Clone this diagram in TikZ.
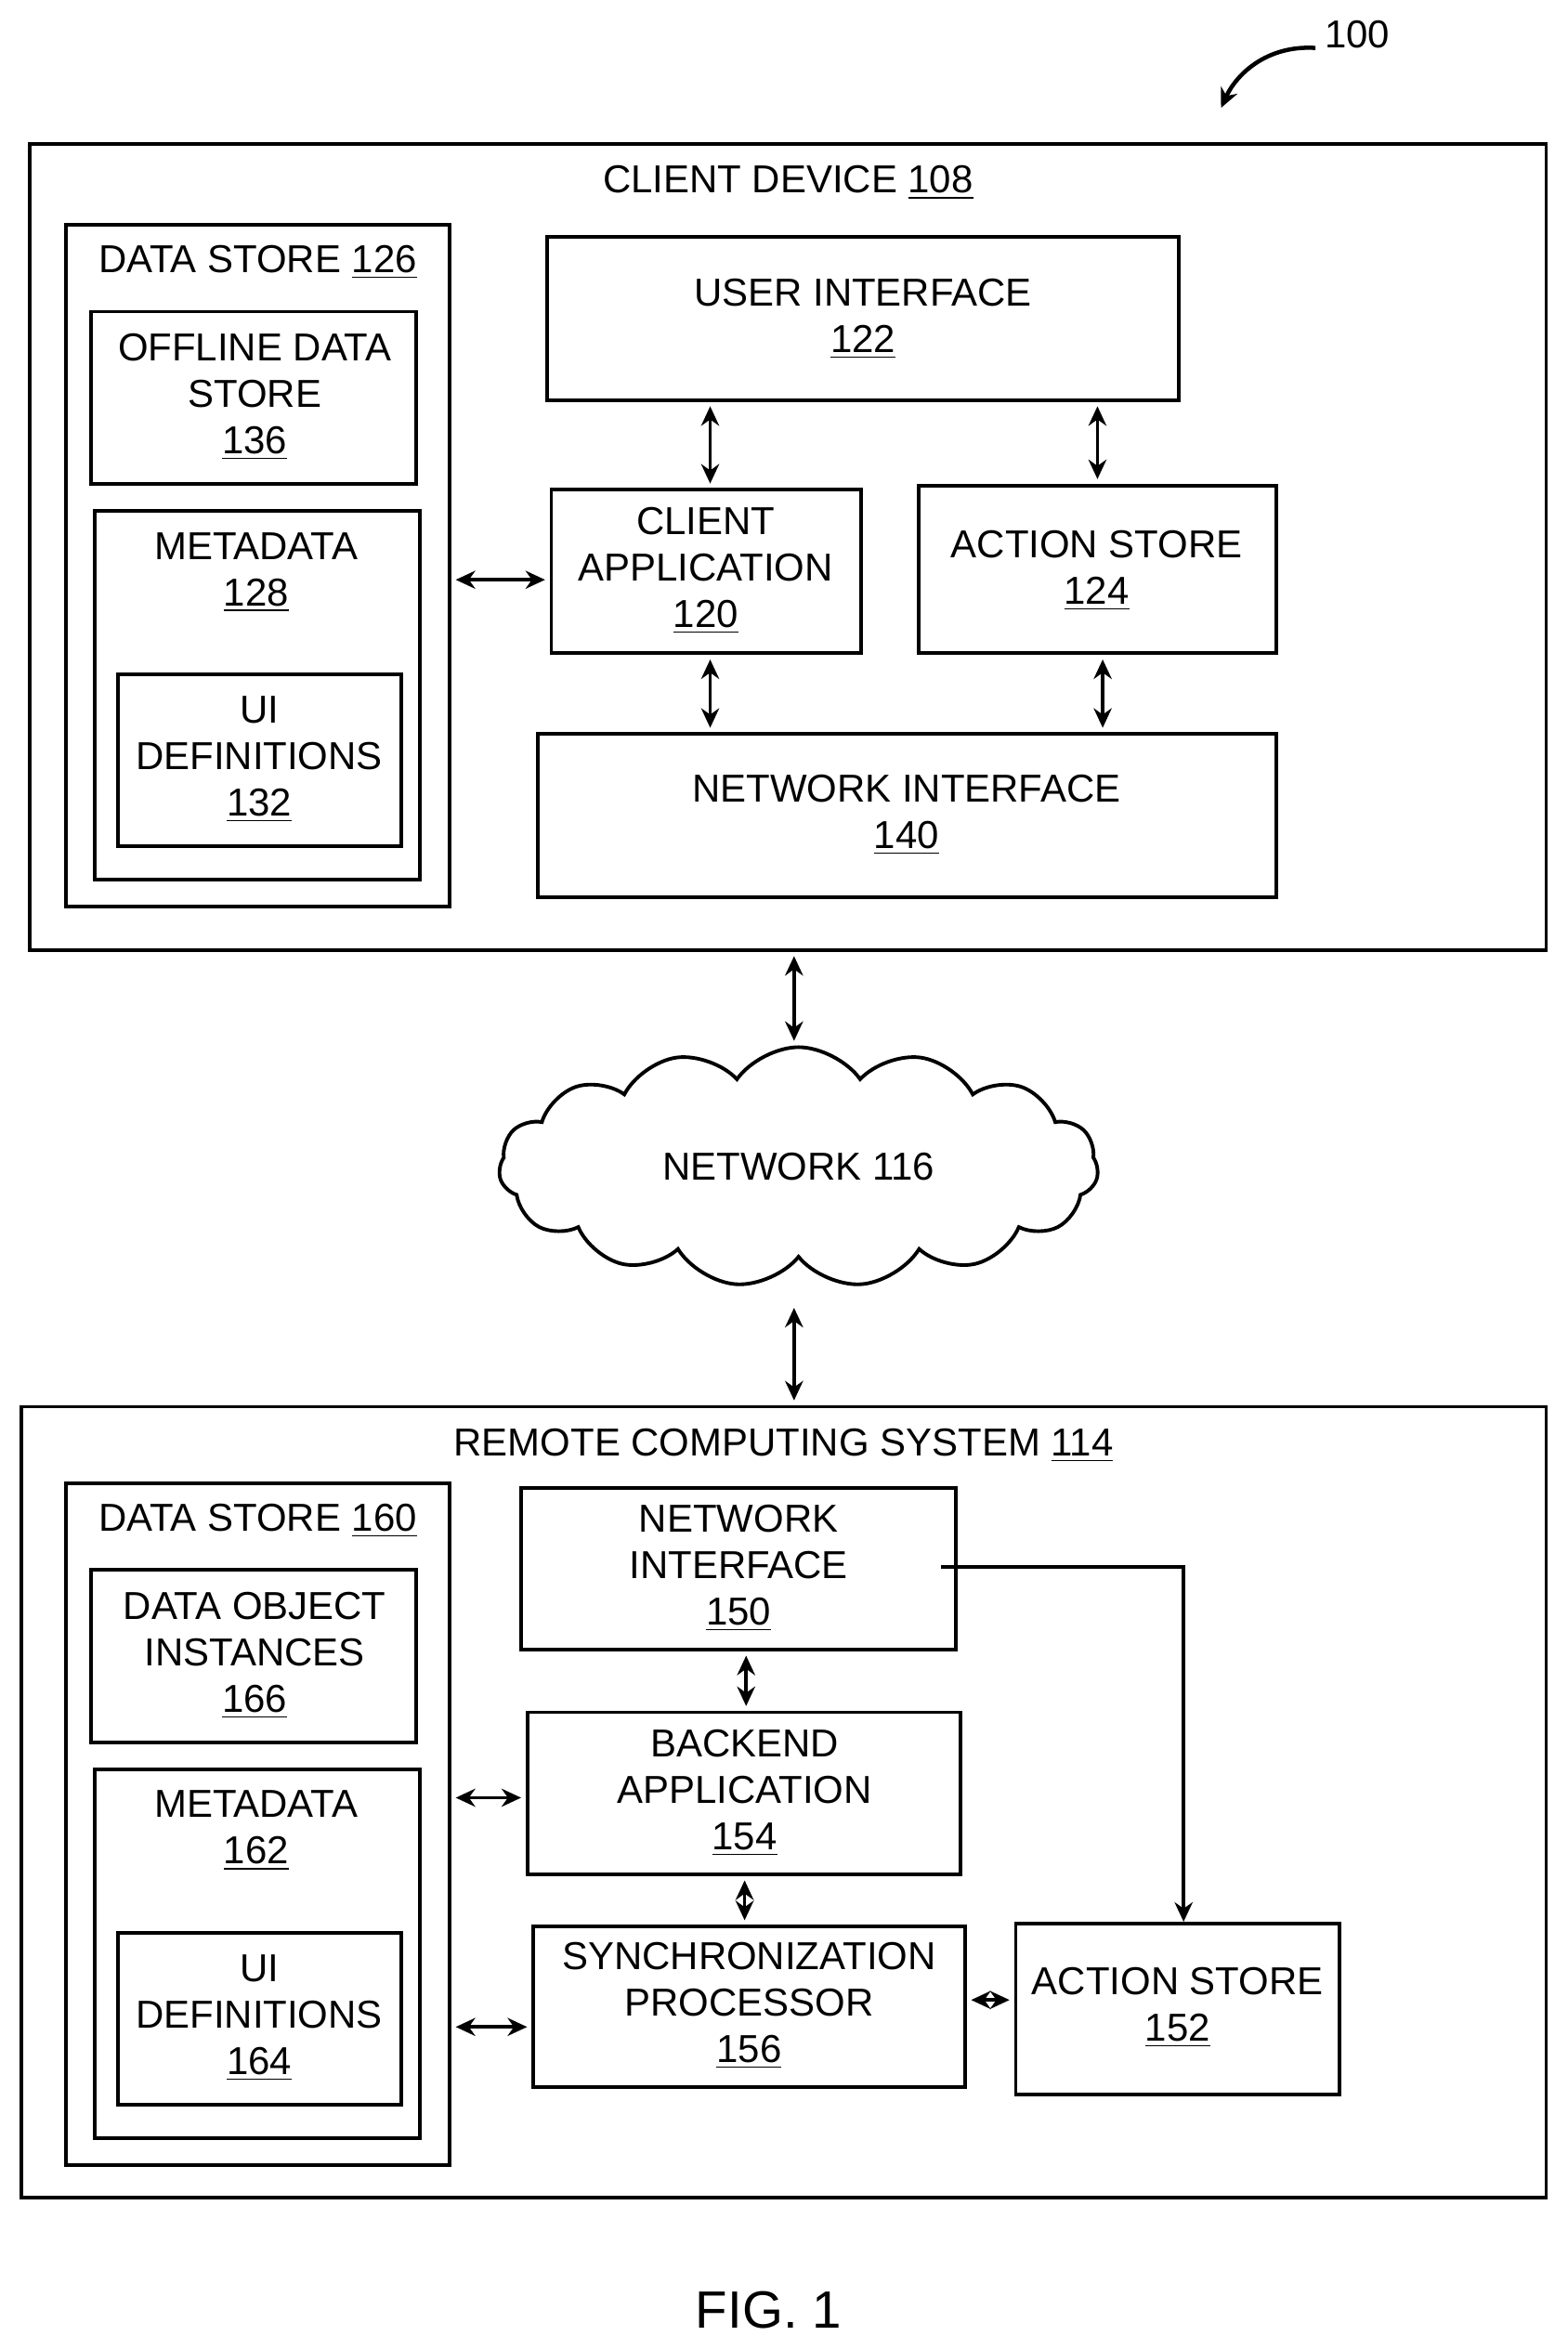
\documentclass[tikz,border=0pt]{standalone}
\usepackage{fontspec}
\setmainfont{Liberation Sans}
\usetikzlibrary{fit,shapes.symbols,arrows.meta}
\begin{document}
\begin{tikzpicture}[x=0.5pt,y=-0.5pt,
  box/.style={draw,line width=1.2pt,inner sep=0pt},
  lbl/.style={font=\fontsize{13}{15.5}\selectfont,align=center,inner sep=0pt},
  arr/.style={{Stealth[length=6.5pt,width=6pt]}-{Stealth[length=6.5pt,width=6pt]},line width=1.1pt,shorten <=1.5pt,shorten >=1.5pt},
  one/.style={-{Stealth[length=6.5pt,width=6pt]},line width=1.1pt}]
\useasboundingbox (0,0) rectangle (1046,1568);
% client device
\node[box,fit={(20,96)(1032,634)}] (cd) {};
\node[lbl] (cdl) at (526,122) {CLIENT DEVICE \underline{108}};
\node[box,fit={(44,150)(300,605)}] (ds1) {};
\node[lbl] (ds1l) at (172,175) {DATA STORE \underline{126}};
\node[box,fit={(61,208)(278,323)}] (ods) {};
\node[lbl] at (170,265) {OFFLINE DATA\\STORE\\\underline{136}};
\node[box,fit={(63,341)(280,587)}] (md1) {};
\node[lbl] (md1l) at (171,382) {METADATA\\\underline{128}};
\node[box,fit={(79,450)(268,565)}] (ui1) {};
\node[lbl] at (173,507) {UI\\DEFINITIONS\\\underline{132}};
\node[box,fit={(365,158)(787,267)}] (ui) {};
\node[lbl] at (576,213) {USER INTERFACE\\\underline{122}};
\node[box,fit={(368,327)(575,436)}] (ca) {};
\node[lbl] at (471,381) {CLIENT\\APPLICATION\\\underline{120}};
\node[box,fit={(613,324)(852,436)}] (as1) {};
\node[lbl] at (732,381) {ACTION STORE\\\underline{124}};
\node[box,fit={(359,490)(852,599)}] (ni1) {};
\node[lbl] at (605,544) {NETWORK INTERFACE\\\underline{140}};
\draw[arr] (ui.south -| 474,0) -- (ca.north -| 474,0);
\draw[arr] (ui.south -| as1.north) -- (as1.north);
\draw[arr] (ds1.east |- 0,387) -- (ca.west |- 0,387);
\draw[arr] (ca.south -| 474,0) -- (ni1.north -| 474,0);
\draw[arr] (as1.south -| 736,0) -- (ni1.north -| 736,0);
% network
\node[cloud,draw,line width=1.2pt,cloud puffs=15,cloud puff arc=110,aspect=2.6,minimum width=200pt,minimum height=80pt,inner sep=0pt] (net) at (533,779) {};
\node[lbl] at (533,779) {NETWORK 116};
% remote
\node[box,fit={(14,939)(1032,1467)}] (rcs) {};
\draw[arr] (cd.south -| 530,0) -- (net.north -| 530,0);
\draw[arr] (530,870) -- (rcs.north -| 530,0);
\node[lbl] (rcsl) at (523,965) {REMOTE COMPUTING SYSTEM \underline{114}};
\node[box,fit={(44,990)(300,1445)}] (ds2) {};
\node[lbl] (ds2l) at (172,1015) {DATA STORE \underline{160}};
\node[box,fit={(61,1048)(278,1163)}] (doi) {};
\node[lbl] at (170,1105) {DATA OBJECT\\INSTANCES\\\underline{166}};
\node[box,fit={(63,1181)(280,1427)}] (md2) {};
\node[lbl] (md2l) at (171,1222) {METADATA\\\underline{162}};
\node[box,fit={(79,1290)(268,1405)}] (ui2) {};
\node[lbl] at (173,1347) {UI\\DEFINITIONS\\\underline{164}};
\node[box,fit={(348,993)(638,1101)}] (ni2) {};
\node[lbl] at (493,1047) {NETWORK\\INTERFACE\\\underline{150}};
\node[box,fit={(352,1143)(641,1251)}] (ba) {};
\node[lbl] at (497,1197) {BACKEND\\APPLICATION\\\underline{154}};
\node[box,fit={(356,1286)(644,1393)}] (sp) {};
\node[lbl] at (500,1339) {SYNCHRONIZATION\\PROCESSOR\\\underline{156}};
\node[box,fit={(678,1284)(894,1398)}] (as2) {};
\node[lbl] at (786,1340) {ACTION STORE\\\underline{152}};
\draw[arr] (ni2.south -| 498,0) -- (ba.north -| 498,0);
\draw[arr] (ds2.east |- 0,1200) -- (ba.west |- 0,1200);
\draw[arr] (ba.south -| 497,0) -- (sp.north -| 497,0);
\draw[arr] (ds2.east |- 0,1353) -- (sp.west |- 0,1353);
\draw[arr] (sp.east |- 0,1335) -- (as2.west |- 0,1335);
\draw[one] (628,1046) -- (790,1046) -- (as2.north -| 790,0);
% labels
\node[lbl,font=\fontsize{17.5}{20}\selectfont] (fig) at (513,1542) {FIG. 1};
\node[lbl] (n100) at (906,23) {100};
\draw[one,line width=1.4pt] (878,32) .. controls (845,30) and (825,50) .. (815,72);
\end{tikzpicture}
\end{document}
